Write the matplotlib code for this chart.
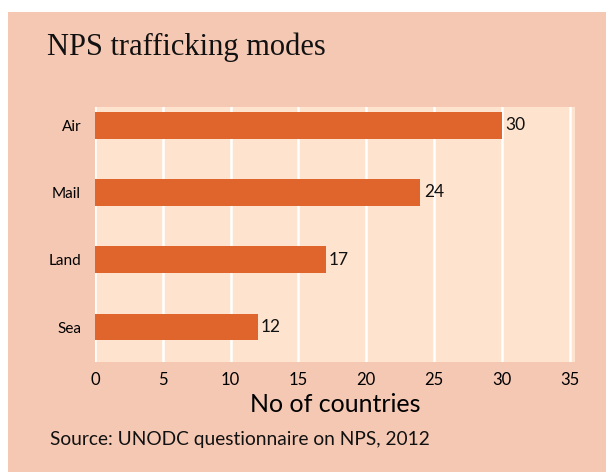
import matplotlib.pyplot as plt
from matplotlib.patches import Rectangle

# trafficking modes, number of countries reporting each
modes = ["Sea", "Land", "Mail", "Air"]
countries = [12, 17, 24, 30]
xticks = [0, 5, 10, 15, 20, 25, 30, 35]

outer_bg = "#F5C8B4"
plot_bg = "#FEE4CF"
bar_color = "#DF652C"

W, H = 606, 472
fig = plt.figure(figsize=(W / 100, H / 100), dpi=100, facecolor="white")

# pink panel behind everything, white strip on top and left
fig.patches.append(Rectangle((8 / W, 0), 1, 1 - 12 / H, transform=fig.transFigure,
                             facecolor=outer_bg, edgecolor="none", zorder=0))

ax = fig.add_axes([95 / W, 1 - 362 / H, (575 - 95) / W, (362 - 107) / H])
ax.set_zorder(2)
ax.set_facecolor(plot_bg)

pos = range(len(modes))
ax.barh(pos, countries, height=0.4, color=bar_color, zorder=3)
for p, v in zip(pos, countries):
    ax.text(v + 0.25, p, str(v), va="center", ha="left", fontsize=12.5,
            family="Lato", color="#111111", zorder=4)

ax.set_xlim(0, 35.4)
ax.set_ylim(-0.52, 3.27)
ax.set_xticks(xticks)
ax.set_xticklabels([str(t) for t in xticks], fontsize=12, family="Lato")
ax.set_yticks(list(pos))
ax.set_yticklabels(modes, fontsize=11, family="Lato")
ax.tick_params(length=0, pad=7)
ax.tick_params(axis="y", pad=10)
ax.grid(axis="x", color="white", linewidth=1.8, zorder=1)
ax.set_axisbelow(True)
for s in ax.spines.values():
    s.set_visible(False)

ax.set_xlabel("No of countries", fontsize=18, family="Lato", labelpad=4)

fig.text(47 / W, 1 - 47 / H, "NPS trafficking modes", fontsize=22,
         family="Liberation Serif", va="center", ha="left", color="#111111")
fig.text(50 / W, 1 - 440 / H, "Source: UNODC questionnaire on NPS, 2012",
         fontsize=13.8, family="Lato", va="center", ha="left", color="#111111")

fig.savefig("out.png", dpi=100, facecolor="white")
